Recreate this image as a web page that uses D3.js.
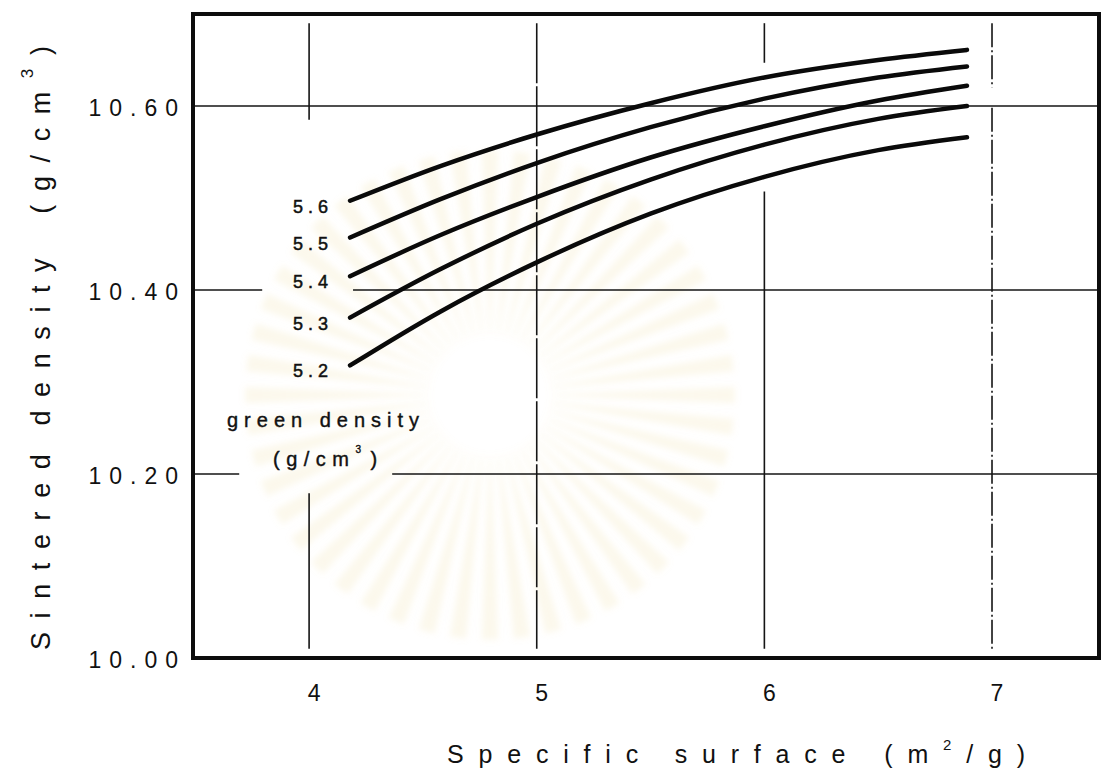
<!DOCTYPE html>
<html>
<head>
<meta charset="utf-8">
<script src="https://cdn.jsdelivr.net/npm/d3@7"></script>
<style>
  html, body { margin: 0; padding: 0; background: #ffffff; }
  svg { display: block; }
  text { font-family: "Liberation Sans", Arial, Helvetica, sans-serif; fill: #111; }
</style>
</head>
<body>
<script>
// Specific surface (m²/g) at which each curve is sampled
const surface = [4.18, 4.58, 5.0, 5.5, 6.0, 6.5, 6.89];

// Sintered density (g/cm³) for each green density
const dens56 = [10.497, 10.535, 10.569, 10.603, 10.631, 10.650, 10.661];
const dens55 = [10.457, 10.499, 10.538, 10.577, 10.608, 10.631, 10.643];
const dens54 = [10.415, 10.460, 10.501, 10.544, 10.578, 10.606, 10.622];
const dens53 = [10.370, 10.423, 10.472, 10.520, 10.558, 10.586, 10.600];
const dens52 = [10.318, 10.377, 10.430, 10.483, 10.523, 10.552, 10.566];

const greenLabels = ["5.6", "5.5", "5.4", "5.3", "5.2"];
const seriesValues = [dens56, dens55, dens54, dens53, dens52];

// Axis ticks
const xTicks = [4, 5, 6, 7];
const xTickLabels = ["4", "5", "6", "7"];
const yTicks = [10.00, 10.20, 10.40, 10.60];
const yTickLabels = ["10.00", "10.20", "10.40", "10.60"];

// Grid rules, drawn in pieces so they stay clear of the curve labels
// vertical: [surface, density from, density to]
const vGrid = [
  [4, 10.690, 10.585], [4, 10.179, 10.010],
  [5, 10.690, 10.010],
  [6, 10.690, 10.647], [6, 10.507, 10.010],
  [7, 10.690, 10.620], [7, 10.598, 10.010]
];
// horizontal: [density, surface from, surface to]
const hGrid = [
  [10.60, 3.49, 7.47],
  [10.40, 3.49, 3.794], [10.40, 4.193, 7.47],
  [10.20, 3.49, 3.693], [10.20, 4.365, 7.47]
];

const W = 1103, H = 771;
const svg = d3.select("body").append("svg").attr("width", W).attr("height", H);

const x = d3.scaleLinear().domain([3.49, 7.47]).range([193, 1099]);
const y = d3.scaleLinear().domain([10.0, 10.7]).range([658, 14]);

// faint emblem rays in the background
const defs = svg.append("defs");
defs.append("filter").attr("id", "soft")
  .append("feGaussianBlur").attr("stdDeviation", 3);
const emblem = svg.append("g").attr("filter", "url(#soft)")
  .attr("transform", "translate(490,395)");
const rayCount = 48;
const rays = d3.range(rayCount).map(i => i * 2 * Math.PI / rayCount);
emblem.selectAll("path.ray").data(rays).join("path")
  .attr("class", "ray")
  .attr("d", a => {
    const w = 0.034, r0 = 60, r1 = 245;
    const p = (r, t) => [r * Math.sin(t), -r * Math.cos(t)];
    const [a1, b1] = p(r0, a - w * 0.4), [a2, b2] = p(r1, a - w), [a3, b3] = p(r1, a + w), [a4, b4] = p(r0, a + w * 0.4);
    return `M${a1},${b1}L${a2},${b2}L${a3},${b3}L${a4},${b4}Z`;
  })
  .attr("fill", "#efd68e")
  .attr("opacity", 0.17);

// grid
const grid = svg.append("g").attr("stroke", "#151515").attr("stroke-width", 1.6).attr("fill", "none");
grid.selectAll("line.v").data(vGrid).join("line")
  .attr("class", "v")
  .attr("x1", d => x(d[0])).attr("x2", d => x(d[0]))
  .attr("y1", d => y(d[1])).attr("y2", d => y(d[2]))
  .attr("stroke-dasharray", d => d[0] === 7 ? "24,3,2,3" : (d[0] === 5 ? "60,3" : null));
grid.selectAll("line.h").data(hGrid).join("line")
  .attr("class", "h")
  .attr("y1", d => y(d[0])).attr("y2", d => y(d[0]))
  .attr("x1", d => x(d[1])).attr("x2", d => x(d[2]));

// frame
svg.append("rect")
  .attr("x", x(3.49)).attr("y", y(10.7))
  .attr("width", x(7.47) - x(3.49)).attr("height", y(10.0) - y(10.7))
  .attr("fill", "none").attr("stroke", "#0d0d0d").attr("stroke-width", 4);

// curves
const line = d3.line()
  .x(d => x(d[0])).y(d => y(d[1]))
  .curve(d3.curveMonotoneX);
const series = seriesValues.map((vals, i) => ({
  label: greenLabels[i],
  pts: surface.map((s, j) => [s, vals[j]])
}));
svg.append("g").selectAll("path").data(series).join("path")
  .attr("d", d => line(d.pts))
  .attr("fill", "none")
  .attr("stroke", "#0a0a0a")
  .attr("stroke-width", 4.5)
  .attr("stroke-linecap", "round");

// curve labels
svg.append("g").selectAll("text").data(series).join("text")
  .attr("x", d => x(d.pts[0][0]) - 17)
  .attr("y", d => y(d.pts[0][1]) + 12)
  .attr("text-anchor", "end")
  .attr("font-size", 18)
  .attr("letter-spacing", 5)
  .attr("stroke", "#111").attr("stroke-width", 0.5)
  .text(d => d.label);

// legend caption
const cap = svg.append("g").attr("stroke", "#111").attr("stroke-width", 0.4);
cap.append("text").attr("x", 227).attr("y", 427)
  .attr("font-size", 20).attr("letter-spacing", 6)
  .text("green density");
const cap2 = cap.append("text").attr("x", 273).attr("y", 466)
  .attr("font-size", 20).attr("letter-spacing", 6.5);
cap2.append("tspan").text("(g/cm");
cap2.append("tspan").attr("dy", -13).attr("font-size", 10).text("3");
cap2.append("tspan").attr("dy", 13).attr("dx", 3).text(")");

// y tick labels
svg.append("g").selectAll("text").data(yTicks).join("text")
  .attr("x", 186)
  .attr("y", d => y(d) + 10)
  .attr("text-anchor", "end")
  .attr("font-size", 23)
  .attr("letter-spacing", 8)
  .text((d, i) => yTickLabels[i]);

// x tick labels
svg.append("g").selectAll("text").data(xTicks).join("text")
  .attr("x", d => x(d) + 5)
  .attr("y", 701)
  .attr("text-anchor", "middle")
  .attr("font-size", 23)
  .text((d, i) => xTickLabels[i]);

// x axis title
const xt = svg.append("text").attr("x", 447).attr("y", 763)
  .attr("font-size", 25).attr("letter-spacing", 14.8);
xt.append("tspan").text("Specific surface");
xt.append("tspan").attr("dx", 24).text("(m");
xt.append("tspan").attr("dy", -13).attr("font-size", 15).text("2");
xt.append("tspan").attr("dy", 13).text("/g)");

// y axis title
const yt = svg.append("text")
  .attr("transform", "translate(50,650) rotate(-90)")
  .attr("font-size", 27).attr("letter-spacing", 13.6);
yt.append("tspan").text("Sintered");
yt.append("tspan").attr("dx", -6).text(" density");
yt.append("tspan").attr("dx", 10).text(" (g/cm");
yt.append("tspan").attr("dy", -17).attr("font-size", 17).text("3");
yt.append("tspan").attr("dy", 17).text(")");
</script>
</body>
</html>
